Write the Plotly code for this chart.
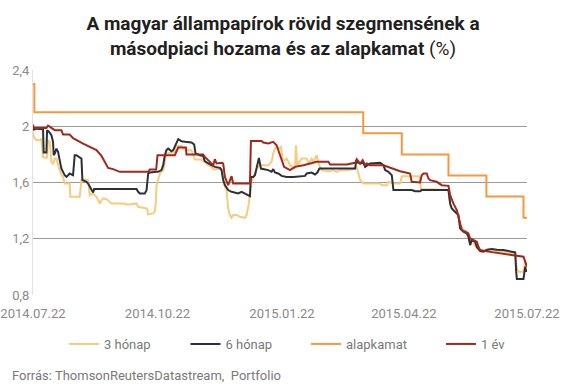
import pandas as pd
import plotly.graph_objects as go

START = "2014-07-22"

# 3 hónap (days since 2014-07-22, yield %)
m3_days = [0, 0.5, 2.5, 5, 6.2, 7.4, 9.9, 10.4, 11.1, 12.4, 13.6, 14.8, 16.1, 17.3, 18.5, 19.7, 21, 22.2, 23.4,
           27.1, 27.6, 34.5, 35.8, 38.2, 40.7, 41.9, 44.4, 45.6, 46.9, 48.1, 49.3, 50.6, 51.8, 54.3, 56.7, 58,
           66.6, 69.1, 71.5, 76.5, 77.7, 82.6, 84.3, 85.1, 88.8, 90, 90.8, 91.3, 92.5, 93.7, 94.9, 96.2, 97.4,
           98.6, 104.8, 105.3, 106, 109.7, 111, 113.4, 117.1, 119.6, 124.5, 127, 129.4, 131.9, 133.1, 139.3,
           140.5, 141.8, 143, 144.2, 145.5, 146.7, 147.9, 150.4, 152.9, 156.6, 157.8, 159.5, 161, 162.7, 164,
           165.2, 167.7, 173.8, 176.3, 177.5, 178.8, 180, 181.2, 183.2, 184.5, 186.2, 187.4, 189.9, 193.6,
           194.3, 195.3, 196.8, 198.5, 202.2, 203.5, 205.9, 207.2, 209.6, 210.9, 213.3, 218.3, 222, 224.4,
           226.9, 231.8, 238, 239.2, 241.7, 244.1, 256.5, 257.7, 261.4, 262.6, 266.3, 271.3, 272.5, 285.5,
           286.7, 307, 308.2, 309.4, 311.9, 314.3, 315.6, 318, 320.5, 323, 325.4, 327.9, 330.4, 334, 337.8,
           342.7, 347.6, 355, 356.3, 357.5, 358.7, 362.4, 363.7, 364.9]
m3_vals = [1.96, 1.924, 1.901, 1.901, 1.912, 1.782, 1.775, 1.782, 1.901, 1.889, 1.747, 1.735, 1.77, 1.77, 1.723,
           1.688, 1.652, 1.64, 1.593, 1.593, 1.498, 1.498, 1.617, 1.621, 1.617, 1.51, 1.522, 1.51, 1.498, 1.475,
           1.451, 1.475, 1.486, 1.482, 1.458, 1.451, 1.451, 1.444, 1.444, 1.451, 1.427, 1.42, 1.415, 1.373,
           1.38, 1.392, 1.463, 1.581, 1.624, 1.664, 1.676, 1.688, 1.747, 1.806, 1.818, 1.853, 1.86, 1.86,
           1.841, 1.83, 1.83, 1.763, 1.763, 1.747, 1.723, 1.711, 1.695, 1.695, 1.628, 1.569, 1.546, 1.415,
           1.368, 1.349, 1.368, 1.368, 1.356, 1.349, 1.368, 1.451, 1.593, 1.628, 1.664, 1.699, 1.723, 1.723,
           1.747, 1.806, 1.841, 1.853, 1.841, 1.853, 1.76, 1.759, 1.77, 1.723, 1.699, 1.865, 1.711, 1.747,
           1.77, 1.77, 1.735, 1.77, 1.747, 1.794, 1.735, 1.688, 1.68, 1.688, 1.676, 1.688, 1.688, 1.699,
           1.711, 1.617, 1.593, 1.593, 1.581, 1.581, 1.605, 1.593, 1.593, 1.645, 1.645, 1.553, 1.546, 1.451,
           1.415, 1.392, 1.38, 1.297, 1.262, 1.25, 1.191, 1.179, 1.131, 1.112, 1.12, 1.131, 1.112, 1.108,
           1.096, 1.084, 0.989, 0.966, 0.966, 1.037, 1.013]

# 6 hónap
m6_days = [0, 1, 3, 6.2, 7.4, 7.9, 9.9, 10.4, 11.9, 13.6, 14.8, 15.3, 16.1, 17.3, 18.5, 19.7, 21, 23.4, 24.7,
           25.9, 27.1, 29.6, 30.8, 32.1, 34.5, 35.8, 36.5, 38.2, 39.5, 40.7, 41.9, 43.2, 44.4, 45.2, 76.5, 77.7,
           78.9, 82.6, 83.9, 85.1, 86.3, 91.3, 92.5, 94.9, 96.2, 97.4, 98.6, 99.9, 102.3, 103.6, 104.8, 106,
           107.3, 108.5, 109.7, 112.2, 117.1, 119.1, 120.1, 123.3, 125.7, 127, 129.4, 131.9, 134.4, 138.1,
           139.3, 140.5, 141.8, 144.2, 146.7, 149.2, 151.6, 154.1, 156.6, 159, 160.3, 161, 162.7, 164, 165.2,
           166.9, 168.4, 170.1, 173.8, 176.3, 177.5, 178.8, 181.2, 183.7, 187.4, 192.4, 197.3, 201, 202.2,
           205.9, 208.4, 210.1, 211.6, 238, 238.7, 241.7, 244.1, 245.4, 247.1, 249.1, 256.5, 258.9, 260.2,
           262.6, 265.1, 266.3, 279.8, 282.3, 286, 287.2, 307, 308.2, 309.4, 311.9, 314.3, 315.6, 318, 320.5,
           321.7, 323, 324.2, 326.7, 327.9, 330.4, 332.8, 335.3, 339, 342.7, 347.6, 353.8, 356.3, 357, 357.5,
           362.4, 363.7, 364.4, 364.9]
m6_vals = [1.972, 1.979, 1.983, 1.983, 1.979, 1.813, 1.813, 1.972, 1.96, 1.936, 1.889, 1.794, 1.806, 1.841,
           1.818, 1.759, 1.699, 1.652, 1.64, 1.652, 1.664, 1.652, 1.794, 1.794, 1.782, 1.77, 1.617, 1.609,
           1.605, 1.593, 1.569, 1.546, 1.529, 1.553, 1.553, 1.534, 1.522, 1.522, 1.546, 1.664, 1.671, 1.676,
           1.676, 1.688, 1.723, 1.794, 1.83, 1.841, 1.822, 1.83, 1.853, 1.877, 1.908, 1.901, 1.893, 1.889,
           1.884, 1.87, 1.806, 1.794, 1.789, 1.751, 1.735, 1.723, 1.711, 1.704, 1.688, 1.617, 1.581, 1.546,
           1.534, 1.529, 1.522, 1.534, 1.522, 1.51, 1.503, 1.64, 1.64, 1.652, 1.711, 1.775, 1.699, 1.695,
           1.688, 1.676, 1.695, 1.671, 1.664, 1.647, 1.64, 1.64, 1.647, 1.647, 1.664, 1.671, 1.657, 1.671,
           1.699, 1.699, 1.747, 1.735, 1.74, 1.711, 1.723, 1.735, 1.74, 1.723, 1.688, 1.676, 1.652, 1.546,
           1.546, 1.538, 1.538, 1.546, 1.546, 1.451, 1.415, 1.392, 1.368, 1.273, 1.25, 1.238, 1.214, 1.155,
           1.191, 1.179, 1.143, 1.112, 1.108, 1.12, 1.127, 1.122, 1.12, 1.108, 1.103, 0.966, 0.914, 0.914,
           1.001, 0.966, 0.978]

# alapkamat (base rate)
base_days = [0, 1, 244, 272.5, 307, 335, 362.4, 365]
base_vals = [2.3, 2.1, 1.95, 1.80, 1.65, 1.50, 1.35, 1.35]

# 1 év
y1_days = [0, 0.5, 9.9, 11.1, 13.6, 16.1, 21, 22.2, 27.1, 29.6, 37, 42, 46.9, 50.6, 53, 55.5, 59.2, 64.1, 85.1,
           86.3, 91, 92, 104.8, 107.3, 113, 113.4, 125.7, 127, 130.7, 133.1, 134.4, 135.6, 139.3, 140.5, 141.8,
           144.2, 146.7, 147.9, 160.3, 161, 168.9, 170.1, 173.8, 177.5, 180, 183.7, 185.5, 189.9, 193.6,
           199.8, 204.7, 209.6, 218.3, 219.5, 231.8, 238, 239.2, 241.7, 243.6, 245.4, 246.6, 249, 258.9,
           266.3, 271.3, 278.6, 279.8, 286, 287.2, 288.5, 290.9, 292.2, 293.4, 298.3, 302, 307, 308.2, 310.6,
           313.1, 315.6, 316.8, 319.3, 321.7, 323, 325.4, 327.9, 329.1, 330.4, 334, 336.5, 345.2, 352.6,
           357.5, 362.4, 363.7, 364.9]
y1_vals = [2.012, 1.988, 1.988, 2.005, 1.988, 1.972, 1.972, 1.941, 1.941, 1.915, 1.877, 1.855, 1.83, 1.789,
           1.747, 1.704, 1.695, 1.676, 1.676, 1.692, 1.692, 1.794, 1.794, 1.849, 1.849, 1.799, 1.799, 1.782,
           1.747, 1.723, 1.766, 1.735, 1.74, 1.735, 1.64, 1.581, 1.645, 1.593, 1.593, 1.896, 1.896, 1.884,
           1.877, 1.889, 1.865, 1.77, 1.711, 1.688, 1.711, 1.723, 1.735, 1.747, 1.747, 1.728, 1.728, 1.74,
           1.766, 1.735, 1.759, 1.723, 1.735, 1.723, 1.723, 1.699, 1.68, 1.664, 1.605, 1.6, 1.652, 1.664,
           1.664, 1.628, 1.617, 1.605, 1.581, 1.576, 1.51, 1.451, 1.404, 1.309, 1.262, 1.25, 1.238, 1.202,
           1.191, 1.179, 1.143, 1.12, 1.112, 1.108, 1.096, 1.084, 1.079, 1.072, 1.037, 1.0]

x_tickvals = ["2014-07-22", "2014-10-22", "2015-01-22", "2015-04-22", "2015-07-22"]
x_ticktext = ["2014.07.22", "2014.10.22", "2015.01.22", "2015.04.22", "2015.07.22"]
y_tickvals = [0.8, 1.2, 1.6, 2.0, 2.4]

series_names = ["3 hónap", "6 hónap", "alapkamat", "1 év"]
colors = ["#F6CB7D", "#2D3037", "#F5983F", "#A1291C"]

def to_dates(days):
    return pd.Timestamp(START) + pd.to_timedelta(days, unit="D")

W, H = 566, 384
ML, MR, MT, MB = 33, 39, 70, 89
PW, PH = W - ML - MR, H - MT - MB
FONT = "Roboto"

def px_x(px):
    return (px - ML) / PW

def px_y(py):
    return (MT + PH - py) / PH

fig = go.Figure()
data = [(m3_days, m3_vals, "linear"), (m6_days, m6_vals, "linear"),
        (base_days, base_vals, "hv"), (y1_days, y1_vals, "linear")]
legend_ids = ["legend", "legend2", "legend3", "legend4"]
for (d, v, shape), name, col, lg in zip(data, series_names, colors, legend_ids):
    fig.add_trace(go.Scatter(x=to_dates(d), y=v, name=name, mode="lines", hoverinfo="skip",
                             line=dict(color=col, width=2, shape=shape), legend=lg))

legend_left_px = [64, 185.5, 306, 441]
legend_common = dict(orientation="h", xref="paper", yref="paper", xanchor="left",
                     yanchor="middle", y=px_y(344), bgcolor="rgba(0,0,0,0)", borderwidth=0,
                     font=dict(family=FONT, size=13, color="#7a7a7a"), itemwidth=30)
layout_legends = {lg: dict(legend_common, x=px_x(px)) for lg, px in zip(legend_ids, legend_left_px)}

fig.update_layout(
    width=W, height=H,
    margin=dict(l=ML, r=MR, t=MT, b=MB, autoexpand=False),
    paper_bgcolor="white", plot_bgcolor="white",
    separators=", ",
    hovermode=False,
    font=dict(family=FONT, size=13, color="#888888"),
    title=dict(text="<b>A magyar állampapírok rövid szegmensének a<br>másodpiaci hozama és az alapkamat</b> (%)",
               x=0.5, xanchor="center", xref="container", y=1 - 30 / H, yanchor="top", yref="container",
               font=dict(family=FONT, size=19, color="#231f20")),
    showlegend=True,
    **layout_legends,
    xaxis=dict(type="date", range=[x_tickvals[0], x_tickvals[-1]], tickvals=x_tickvals, ticktext=x_ticktext,
               showgrid=False, zeroline=False, showline=False, ticks="", ticklabelstandoff=9,
               tickfont=dict(family=FONT, size=13, color="#8a8a8a")),
    yaxis=dict(range=[0.8, 2.4], tickvals=y_tickvals, tickformat=".1~f", showgrid=True,
               gridcolor="#9a9a9a", gridwidth=1, zeroline=False, showline=True, linecolor="#e2e2e2",
               linewidth=1, ticks="", tickfont=dict(family=FONT, size=13, color="#8a8a8a")),
    annotations=[dict(text="Forrás: ThomsonReutersDatastream, \u00a0Portfolio", xref="paper",
                      yref="paper", x=px_x(10), y=px_y(375), xanchor="left",
                      yanchor="middle", showarrow=False,
                      font=dict(family=FONT, size=13, color="#7a7a7a"))],
)

fig.write_html("out.html", config={"displayModeBar": False},
               post_script="document.body.style.margin='0';document.body.style.padding='0';")
